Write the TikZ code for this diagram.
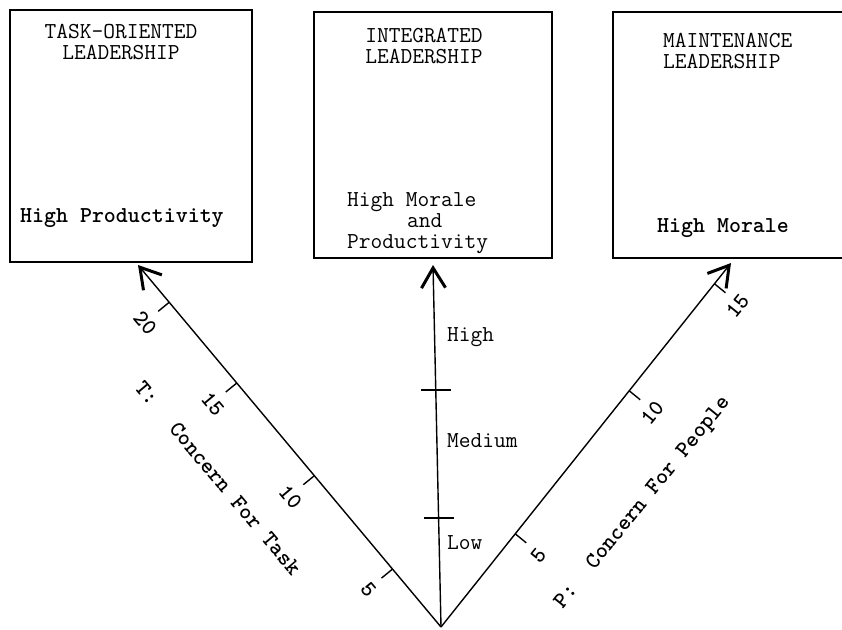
\documentclass[tikz,border=0pt]{standalone}
\usepackage{tikz}
\usetikzlibrary{arrows.meta,calc}

\newcommand{\typew}{\ttfamily\fontsize{22.8}{21}\selectfont}

\begin{document}
\begin{tikzpicture}[x=1pt,y=-1pt,
  panel/.style={draw, line width=1.5pt, inner sep=0pt},
  lbl/.style={font=\typew, inner sep=0pt},
  heavy/.style={font=\typew\bfseries, inner sep=0pt},
  axis/.style={line width=1.4pt, -{Straight Barb[length=20pt,width=24pt,line width=3pt]}},
  tick/.style={line width=1.4pt}]
\useasboundingbox (0,0) rectangle (842,629);

% Leadership panels
\node[panel, minimum width=242pt, minimum height=252pt] (task) at (131,136) {};
\node[panel, minimum width=238pt, minimum height=246pt] (integ) at (433,135) {};
\node[panel, minimum width=240pt, minimum height=246pt] (maint) at (733,135) {};

\node[lbl, align=center] (ttitle) at (121,42) {TASK-ORIENTED\\LEADERSHIP};
\node[heavy, anchor=west] (tres) at (20,218) {High Productivity};
\node[lbl, align=center] (ititle) at (424,46) {INTEGRATED\\LEADERSHIP};
\node[lbl, align=left, anchor=west] (ires) at (347,223) {High Morale\\\hspace*{2.625em}and\\Productivity};
\node[lbl, align=left, anchor=west] (mtitle) at (663,51) {MAINTENANCE\\LEADERSHIP};
\node[heavy, anchor=west] (mres) at (657,228) {High Morale};

% Axes
\coordinate (O) at (441,627);
\coordinate (ttip) at (138,265);
\coordinate (htip) at (433,265);
\coordinate (ptip) at (731,263);
\draw[axis] (O) -- (ttip);
\draw[axis] (O) -- (htip);
\draw[axis] (O) -- (ptip);

% T: concern for task
\foreach \p/\v in {0.16/5,0.418/10,0.674/15,0.897/20} {
  \draw[tick] ($(O)!\p!(ttip)$) coordinate (tt\v) -- ++(-11,9);
  \node[heavy, rotate=-50] (ttl\v) at ($(tt\v)+(-24,21)$) {\v};
}
\node[heavy, rotate=-50] (tname) at (218,478) {T:\hspace*{1.31em}Concern For Task};

% P: concern for people
\foreach \p/\v in {0.256/5,0.649/10,0.943/15} {
  \draw[tick] ($(O)!\p!(ptip)$) coordinate (pt\v) -- ++(11,9);
  \node[heavy, rotate=51] (ptl\v) at ($(pt\v)+(23,22)$) {\v};
}
\node[heavy, rotate=51] (pname) at (643,503) {P:\hspace*{1.16em}Concern For People};

% morale / productivity levels
\foreach \p/\n in {0.301/a,0.655/b} {
  \draw[tick] ($(O)!\p!(htip)$) coordinate (h\n) -- ++(-15,0) ($(h\n)$) -- ++(15,0);
}
\node[lbl, anchor=west] (high) at (447,337) {High};
\node[lbl, anchor=west] (med) at (447,441) {Medium};
\node[lbl, anchor=west] (low) at (447,543) {Low};
\end{tikzpicture}
\end{document}
